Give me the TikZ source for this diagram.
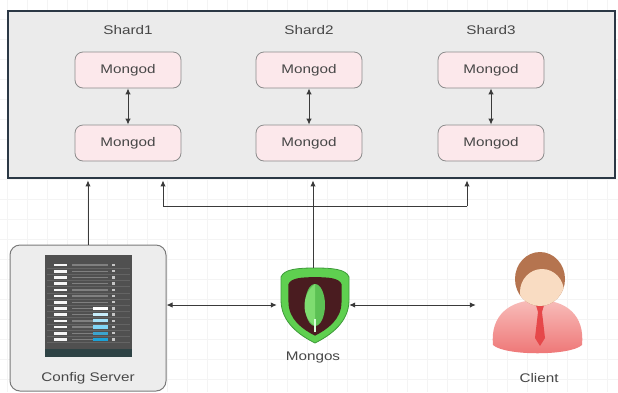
\documentclass[tikz,border=0pt]{standalone}
\usepackage{fontspec}
\setmainfont{Liberation Sans}[FakeStretch=1.22]
\usetikzlibrary{arrows.meta}

\definecolor{framebg}{HTML}{EBEBEB}
\definecolor{frameline}{HTML}{2B3845}
\definecolor{podpink}{HTML}{FCE8EB}
\definecolor{podline}{HTML}{8C8C8C}
\definecolor{linkgray}{HTML}{3A3A3A}
\definecolor{txtgray}{HTML}{474747}
\definecolor{cfgbg}{HTML}{EDEDED}
\definecolor{cfgline}{HTML}{7A7A7A}
\definecolor{rackbg}{HTML}{505050}
\definecolor{rackrow}{HTML}{646464}
\definecolor{rackbar}{HTML}{808080}
\definecolor{rackfoot}{HTML}{2E4345}
\definecolor{leafgreen}{HTML}{7EDC70}
\definecolor{leafdark}{HTML}{5CC154}
\definecolor{shieldgreen}{HTML}{5FD050}
\definecolor{shieldedge}{HTML}{3E9B3A}
\definecolor{shieldin}{HTML}{4A1C20}
\definecolor{skin}{HTML}{F9DCC2}
\definecolor{hair}{HTML}{B5744F}
\definecolor{shirttop}{HTML}{F8BDBA}
\definecolor{shirtbot}{HTML}{EE7474}
\definecolor{tie}{HTML}{E6484A}

\tikzset{
  mongod/.style={draw=podline, fill=podpink, rounded corners=8pt, line width=0.8pt,
    minimum width=106pt, minimum height=36pt, text=txtgray},
  lbl/.style={text=txtgray},
  link/.style={draw=linkgray, line width=1pt},
  gridline/.style={draw=gray!9, line width=0.5pt},
  >={Latex[length=6pt,width=5.5pt]}
}

\begin{document}
\begin{tikzpicture}[x=1pt, y=-1pt, font=\fontsize{12.5}{14}\selectfont]
  \useasboundingbox (0,0) rectangle (618,392);
  \fill[white] (0,0) rectangle (618,392);
  % --- faint canvas grid ---
  \foreach \gx in {7,27,...,607} \draw[gridline] (\gx,0) -- (\gx,392);
  \foreach \gy in {19,39,...,379} \draw[gridline] (0,\gy) -- (618,\gy);

  % --- sharded cluster frame ---
  \node[draw=frameline, fill=framebg, line width=2.5pt, minimum width=607pt,
    minimum height=167pt, inner sep=0pt] (shards) at (311.5,94.5) {};
  % shard columns: label, primary and secondary mongod
  \foreach \cx/\n in {128/1, 309/2, 491/3} {
    \node[lbl] (shard\n) at (\cx,30) {Shard\n};
    \node[mongod] (top\n) at (\cx,70) {Mongod};
    \node[mongod] (bot\n) at (\cx,143) {Mongod};
    \draw[link,<->] (top\n) -- (bot\n);
  }

  % --- config server box with rack ---
  \node[draw=cfgline, fill=cfgbg, rounded corners=10pt, line width=1pt,
    minimum width=156pt, minimum height=146pt] (cfg) at (88,318) {};
  \fill[rackbg] (45,255) rectangle (132,357);
  \foreach \i in {0,...,12} {
    \pgfmathsetmacro\ry{265+6.2*\i}
    \draw[rackrow, line width=0.6pt] (47,\ry+3.1) -- (130,\ry+3.1);
    \fill[white!92!gray] (54,\ry-1.3) rectangle (67,\ry+1.3);
    \fill[rackbar] (72,\ry-0.7) rectangle (108,\ry+0.7);
    \fill[gray!45] (112,\ry-1.2) rectangle (115,\ry+1.2);
  }
  % lit drive bays
  \foreach \i/\c in {7/white, 8/cyan!22!white, 9/cyan!35!white, 10/cyan!50!white,
                     11/cyan!60!teal!90, 12/cyan!75!teal} {
    \pgfmathsetmacro\ry{265+6.2*\i}
    \fill[\c] (93,\ry-1.6) rectangle (108,\ry+1.6);
  }
  \fill[rackfoot] (45,349) rectangle (132,357);
  \node[lbl] (cfglbl) at (88,378) {Config Server};

  % --- mongos shield ---
  \node[minimum width=72pt, minimum height=74pt, inner sep=0pt] (mongos) at (313,305) {};
  \def\shield{(0,-37) .. controls (17,-37) and (31,-36) .. (34,-28) -- (34,-5)
    .. controls (34,17) and (16,30) .. (0,38) .. controls (-16,30) and (-34,17) .. (-34,-5)
    -- (-34,-28) .. controls (-31,-36) and (-17,-37) .. (0,-37) -- cycle}
  \begin{scope}[shift={(315,305)}]
    \filldraw[fill=shieldgreen, draw=shieldedge, line width=0.8pt] \shield;
    \begin{scope}[shift={(0,1)}, scale=0.78]
      \fill[shieldin] \shield;
    \end{scope}
    \fill[leafdark] (0,0) ellipse [x radius=10, y radius=21];
    \fill[leafgreen] (0,-21) .. controls (-14,-10) and (-14,12) .. (0,21) -- cycle;
    \draw[white!85!green, line width=1.4pt] (0,14) -- (0,27);
  \end{scope}
  \node[lbl] (mongoslbl) at (313,357) {Mongos};

  % --- client figure ---
  \node[minimum width=124pt, minimum height=60pt, inner sep=0pt] (client) at (538,305) {};
  \shade[top color=shirttop, bottom color=shirtbot]
    (493,345) .. controls (490,315) and (510,300) .. (538,300)
    .. controls (566,300) and (585,315) .. (582,345)
    .. controls (570,356) and (505,356) .. (493,345) -- cycle;
  \fill[tie] (535,302) -- (545,302) -- (542,312) -- (545,338) -- (540,346)
    -- (535,338) -- (538,312) -- cycle;
  \fill[hair] (540,279) ellipse [x radius=25, y radius=27];
  \begin{scope}
    \clip (540,279) ellipse [x radius=25, y radius=27];
    \fill[skin] (542,292) ellipse [x radius=22, y radius=23];
  \end{scope}
  \node[lbl] (clientlbl) at (539,378) {Client};

  % --- connectors ---
  \draw[link,->,shorten >=1.2pt] (cfg.north) -- (cfg.north |- shards.south);
  \draw[link,<->] (cfg.east |- mongos.west) -- (mongos.west);
  \draw[link,<->] (mongos.east) -- (client.west);
  \draw[link,->,shorten >=1.2pt] (mongos.north) -- (mongos.north |- shards.south);
  \coordinate (busL) at (163,206);
  \coordinate (busR) at (467,206);
  \draw[link] (busL) -- (busR);
  \draw[link,->,shorten >=1.2pt] (busL) -- (busL |- shards.south);
  \draw[link,->,shorten >=1.2pt] (busR) -- (busR |- shards.south);
\end{tikzpicture}
\end{document}
